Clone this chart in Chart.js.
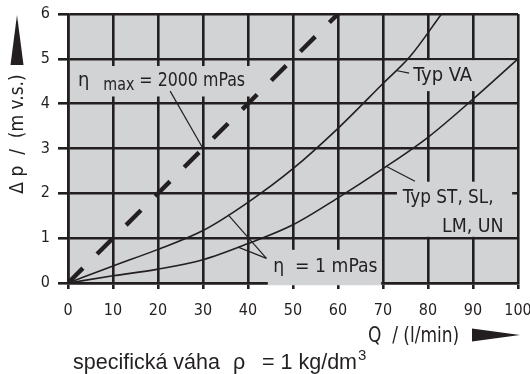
<!DOCTYPE html>
<html>
<head>
<meta charset="utf-8">
<script src="https://cdn.jsdelivr.net/npm/chart.js@4.4.1/dist/chart.umd.min.js"></script>
<style>
    body { margin: 0; background: #fff; }
    #wrap { width: 530px; height: 374px; }
</style>
</head>
<body>
<div id="wrap"><canvas id="pressure-chart" width="530" height="374"></canvas></div>
<script>
// tick labels
var flowTicks = [0, 10, 20, 30, 40, 50, 60, 70, 80, 90, 100];
var dpTicks = [0, 1, 2, 3, 4, 5, 6];

// Typ VA, eta = 1 mPas
var flowVA = [0, 10, 20, 30, 40, 50, 60, 70, 76, 83];
var dpVA = [0, 0.38, 0.75, 1.17, 1.8, 2.55, 3.45, 4.45, 5.05, 6.0];

// Typ ST, SL, LM, UN, eta = 1 mPas
var flowST = [0, 10, 20, 30, 40, 50, 60, 70, 80, 90, 100];
var dpST = [0, 0.16, 0.31, 0.52, 0.88, 1.3, 1.9, 2.55, 3.25, 4.1, 5.0];

// eta max = 2000 mPas
var flowMax = [0, 60];
var dpMax = [0, 6];

var FONT = '"Liberation Sans Narrow", "DejaVu Sans Condensed", "Liberation Sans", sans-serif';
var WIDE_FONT = '"Liberation Sans", Arial, sans-serif';
var INK = '#231f20';
var PANEL = '#d1d3d4';

Chart.defaults.font.family = FONT;
Chart.defaults.color = INK;

function toPoints(xs, ys) {
    return xs.map(function (x, i) {
        return { x: x, y: ys[i] };
    });
}

// draws text, optionally squeezed horizontally; returns drawn width
function drawText(ctx, text, x, y, size, squeeze, family) {
    squeeze = squeeze || 1;
    ctx.save();
    ctx.font = size + 'px ' + (family || FONT);
    ctx.translate(x, y);
    ctx.scale(squeeze, 1);
    ctx.fillText(text, 0, 0);
    var w = ctx.measureText(text).width * squeeze;
    ctx.restore();
    return w;
}

// boxes hiding the grid behind the labels, data units [x1, y1, x2, y2]
var labelBoxes = [
    [0.9, 4.84, 42.2, 4.16],
    [74.7, 4.97, 99.6, 4.28],
    [73.1, 2.26, 98.7, 1.03],
    [44.4, 0.74, 69.6, -0.05]
];

// leader lines, data units
var leaders = [
    [[22.7, 4.28], [30, 3.0]],
    [[72.9, 4.74], [75.8, 4.68]],
    [[70.8, 2.6], [77.1, 2.27]],
    [[35.6, 1.52], [44.1, 0.55]],
    [[37.8, 0.8], [44.1, 0.55]]
];

var annotations = {
    id: 'annotations',
    beforeDraw: function (chart) {
        var a = chart.chartArea, ctx = chart.ctx;
        ctx.save();
        ctx.fillStyle = PANEL;
        ctx.fillRect(a.left, a.top, a.right - a.left, a.bottom - a.top);
        ctx.restore();
    },
    beforeDatasetsDraw: function (chart) {
        var sx = chart.scales.x, sy = chart.scales.y, ctx = chart.ctx;
        ctx.save();
        ctx.fillStyle = PANEL;
        labelBoxes.forEach(function (b) {
            var x1 = sx.getPixelForValue(b[0]), x2 = sx.getPixelForValue(b[2]);
            var y1 = sy.getPixelForValue(b[1]), y2 = sy.getPixelForValue(b[3]);
            ctx.fillRect(x1, y1, x2 - x1, y2 - y1);
        });
        ctx.restore();
    },
    afterDatasetsDraw: function (chart) {
        var sx = chart.scales.x, sy = chart.scales.y, ctx = chart.ctx;
        var px = function (v) { return sx.getPixelForValue(v); };
        var py = function (v) { return sy.getPixelForValue(v); };

        ctx.save();
        ctx.strokeStyle = INK;
        ctx.lineWidth = 1.2;
        leaders.forEach(function (l) {
            ctx.beginPath();
            ctx.moveTo(px(l[0][0]), py(l[0][1]));
            ctx.lineTo(px(l[1][0]), py(l[1][1]));
            ctx.stroke();
        });

        ctx.fillStyle = INK;
        ctx.textBaseline = 'alphabetic';
        ctx.textAlign = 'left';

        // eta max = 2000 mPas
        var x = px(2.2), y = py(4.39);
        x += drawText(ctx, '\u03b7', x, y, 20) + 14;
        x += drawText(ctx, 'max', x, y + 4, 18, 0.88) + 5;
        drawText(ctx, '= 2000 mPas', x, y, 20, 0.88);

        drawText(ctx, 'Typ VA', px(76.7), py(4.5), 20);
        drawText(ctx, 'Typ ST, SL,', px(74.4), py(1.79), 20, 0.94);
        drawText(ctx, 'LM, UN', px(83.1), py(1.14), 20, 0.97);
        drawText(ctx, '\u03b7  = 1 mPas', px(45.6), py(0.25), 20, 0.96);
        ctx.restore();
    },
    afterDraw: function (chart) {
        var ctx = chart.ctx;
        ctx.save();
        ctx.fillStyle = INK;

        // y title with arrow
        ctx.beginPath();
        ctx.moveTo(17, 15);
        ctx.lineTo(23.5, 65);
        ctx.lineTo(10.5, 65);
        ctx.closePath();
        ctx.fill();

        ctx.save();
        ctx.translate(18, 134);
        ctx.rotate(-Math.PI / 2);
        ctx.textAlign = 'center';
        ctx.textBaseline = 'middle';
        ctx.font = '19px ' + FONT;
        ctx.fillText('\u0394 p  /  (m v.s.)', 0, 0);
        ctx.restore();

        // x title with arrow
        ctx.textAlign = 'left';
        ctx.textBaseline = 'alphabetic';
        drawText(ctx, 'Q  / (l/min)', 368, 342, 21, 0.9);
        ctx.beginPath();
        ctx.moveTo(472, 328.5);
        ctx.lineTo(520, 335);
        ctx.lineTo(472, 341.5);
        ctx.closePath();
        ctx.fill();

        // footnote
        drawText(ctx, 'specifick\u00e1 v\u00e1ha', 73, 369, 21.5, 1, WIDE_FONT);
        drawText(ctx, '\u03c1', 233, 369, 21.5, 1, WIDE_FONT);
        var w = drawText(ctx, '= 1 kg/dm', 262, 369, 21.5, 1, WIDE_FONT);
        drawText(ctx, '3', 262 + w + 1, 360, 15, 1, WIDE_FONT);
        ctx.restore();
    }
};

function drawPressureChart() {
    var ctx = document.getElementById('pressure-chart');

    new Chart(ctx, {
        type: 'scatter',
        data: {
            datasets: [{
                data: toPoints(flowMax, dpMax),
                showLine: true,
                borderColor: INK,
                borderWidth: 4.4,
                borderDash: [21, 20],
                borderCapStyle: 'butt',
                pointRadius: 0
            }, {
                data: toPoints(flowVA, dpVA),
                showLine: true,
                borderColor: INK,
                borderWidth: 1.6,
                cubicInterpolationMode: 'monotone',
                pointRadius: 0
            }, {
                data: toPoints(flowST, dpST),
                showLine: true,
                borderColor: INK,
                borderWidth: 1.6,
                cubicInterpolationMode: 'monotone',
                pointRadius: 0
            }]
        },
        options: {
            responsive: false,
            animation: false,
            layout: { padding: { top: 14, right: 12, left: 0, bottom: 0 } },
            plugins: {
                legend: { display: false },
                tooltip: { enabled: false }
            },
            scales: {
                x: {
                    type: 'linear',
                    min: 0,
                    max: 100,
                    afterBuildTicks: function (s) {
                        s.ticks = flowTicks.map(function (v) { return { value: v }; });
                    },
                    afterFit: function (s) {
                        s.height = 91;
                        s.paddingLeft = 0;
                        s.paddingRight = 0;
                    },
                    ticks: { color: INK, font: { size: 16 }, padding: 12, maxRotation: 0 },
                    grid: { color: INK, lineWidth: 2.6, tickLength: 6 },
                    border: { color: INK, width: 2.6 }
                },
                y: {
                    type: 'linear',
                    min: 0,
                    max: 6,
                    afterBuildTicks: function (s) {
                        s.ticks = dpTicks.map(function (v) { return { value: v }; });
                    },
                    afterFit: function (s) {
                        s.width = 68;
                        s.paddingTop = 0;
                        s.paddingBottom = 0;
                    },
                    ticks: { color: INK, font: { size: 16 }, padding: 8 },
                    grid: { color: INK, lineWidth: 2.6, tickLength: 10 },
                    border: { color: INK, width: 2.6 }
                }
            }
        },
        plugins: [annotations]
    });
}

drawPressureChart();
</script>
</body>
</html>
